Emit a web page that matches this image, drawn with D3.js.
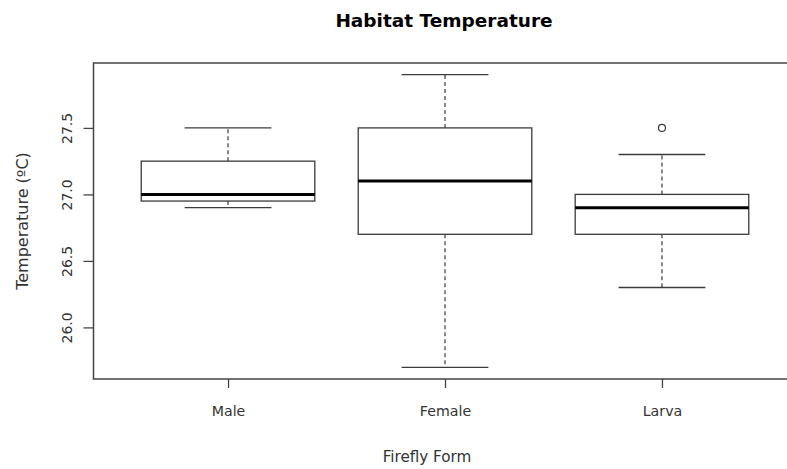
<!DOCTYPE html>
<html lang="en">
<head>
  <meta charset="UTF-8">
  <title>Habitat Temperature</title>
  <script src="https://d3js.org/d3.v7.min.js"></script>
  <style>
    body { margin: 0; background: #fff; overflow: hidden; }
    svg { width: 787px; height: 469px; display: block; }
    text { font-family: "DejaVu Sans", Verdana, sans-serif; fill: #333; }
  </style>
</head>
<body>
  <svg></svg>

  <script>
    const forms = [`Male`, `Female`, `Larva`];
    const lowerWhisker = [26.9, 25.7, 26.3];
    const q1 = [26.95, 26.7, 26.7];
    const median = [27.0, 27.1, 26.9];
    const q3 = [27.25, 27.5, 27.0];
    const upperWhisker = [27.5, 27.9, 27.3];
    const outliers = [[], [], [27.5]];
    const yTicks = [26.0, 26.5, 27.0, 27.5];

    const boxes = forms.map((f, i) => ({
      form: f, pos: i + 1,
      lo: lowerWhisker[i], q1: q1[i], med: median[i], q3: q3[i], hi: upperWhisker[i],
      out: outliers[i]
    }));

    // R style: 4% padding around the data range
    const allVals = boxes.flatMap(b => [b.lo, b.hi, ...b.out]);
    const yMin = d3.min(allVals), yMax = d3.max(allVals);
    const pad = (yMax - yMin) * 0.04;

    const plot = {left: 93.5, right: 796.5, top: 63, bottom: 379};

    const xScale = d3.scaleLinear()
      .domain([0.5 - 0.12, forms.length + 0.5 + 0.12])
      .range([plot.left, plot.right]);

    const yScale = d3.scaleLinear()
      .domain([yMin - pad, yMax + pad])
      .range([plot.bottom, plot.top]);

    const unit = xScale(2) - xScale(1);
    const boxHalf = 0.4 * unit;
    const capHalf = 0.2 * unit;

    const svg = d3.select(`svg`);
    const stroke = `#3a3a3a`;

    const g = svg.selectAll(`g.box`)
      .data(boxes)
      .enter()
      .append(`g`)
      .attr(`class`, `box`);

    // whiskers
    g.append(`line`)
      .attr(`x1`, d => xScale(d.pos)).attr(`x2`, d => xScale(d.pos))
      .attr(`y1`, d => yScale(d.q3)).attr(`y2`, d => yScale(d.hi))
      .attr(`stroke`, stroke).attr(`stroke-width`, 1.2).attr(`stroke-dasharray`, `4,3`);
    g.append(`line`)
      .attr(`x1`, d => xScale(d.pos)).attr(`x2`, d => xScale(d.pos))
      .attr(`y1`, d => yScale(d.q1)).attr(`y2`, d => yScale(d.lo))
      .attr(`stroke`, stroke).attr(`stroke-width`, 1.2).attr(`stroke-dasharray`, `4,3`);

    // caps
    [`hi`, `lo`].forEach(k => {
      g.append(`line`)
        .attr(`x1`, d => xScale(d.pos) - capHalf).attr(`x2`, d => xScale(d.pos) + capHalf)
        .attr(`y1`, d => yScale(d[k])).attr(`y2`, d => yScale(d[k]))
        .attr(`stroke`, stroke).attr(`stroke-width`, 1.3);
    });

    // box
    g.append(`rect`)
      .attr(`x`, d => xScale(d.pos) - boxHalf)
      .attr(`width`, 2 * boxHalf)
      .attr(`y`, d => yScale(d.q3))
      .attr(`height`, d => yScale(d.q1) - yScale(d.q3))
      .attr(`fill`, `white`)
      .attr(`stroke`, stroke).attr(`stroke-width`, 1.3);

    // median
    g.append(`line`)
      .attr(`x1`, d => xScale(d.pos) - boxHalf).attr(`x2`, d => xScale(d.pos) + boxHalf)
      .attr(`y1`, d => yScale(d.med)).attr(`y2`, d => yScale(d.med))
      .attr(`stroke`, `#000`).attr(`stroke-width`, 3);

    // outliers
    g.selectAll(`circle`)
      .data(d => d.out.map(v => ({pos: d.pos, v})))
      .enter()
      .append(`circle`)
      .attr(`cx`, d => xScale(d.pos))
      .attr(`cy`, d => yScale(d.v))
      .attr(`r`, 3.5)
      .attr(`fill`, `none`)
      .attr(`stroke`, stroke).attr(`stroke-width`, 1.2);

    // frame (right side falls outside the picture)
    svg.append(`path`)
      .attr(`d`, `M${plot.right},${plot.top}H${plot.left}V${plot.bottom}H${plot.right}`)
      .attr(`fill`, `none`).attr(`stroke`, `#444`).attr(`stroke-width`, 1.5);

    // axes
    const xAxis = d3.axisBottom(xScale)
      .tickValues(boxes.map(b => b.pos))
      .tickFormat((d, i) => forms[i])
      .tickSize(9).tickPadding(18);
    const xg = svg.append(`g`)
      .attr(`transform`, `translate(0, ${plot.bottom})`)
      .call(xAxis);
    xg.select(`.domain`).remove();
    xg.selectAll(`line`).attr(`stroke`, `#444`).attr(`stroke-width`, 1.3);
    xg.selectAll(`text`).attr(`font-size`, 14.2).attr(`font-family`, null).attr(`fill`, `#333`);

    const yAxis = d3.axisLeft(yScale)
      .tickValues(yTicks)
      .tickFormat(d3.format(`.1f`))
      .tickSize(10);
    const yg = svg.append(`g`)
      .attr(`transform`, `translate(${plot.left}, 0)`)
      .call(yAxis);
    yg.select(`.domain`).remove();
    yg.selectAll(`line`).attr(`stroke`, `#444`).attr(`stroke-width`, 1.3);
    yg.selectAll(`text`)
      .attr(`font-size`, 14).attr(`font-family`, null).attr(`fill`, `#333`)
      .attr(`x`, null).attr(`dy`, null)
      .attr(`text-anchor`, `middle`)
      .attr(`transform`, `translate(-22, 0) rotate(-90)`);

    // titles
    svg.append(`text`)
      .attr(`x`, 444).attr(`y`, 27)
      .attr(`text-anchor`, `middle`)
      .attr(`font-size`, 18.5).attr(`font-weight`, `bold`)
      .style(`fill`, `#000`)
      .text(`Habitat Temperature`);

    svg.append(`text`)
      .attr(`x`, 427).attr(`y`, 462)
      .attr(`text-anchor`, `middle`)
      .attr(`font-size`, 15.2)
      .text(`Firefly Form`);

    svg.append(`text`)
      .attr(`transform`, `translate(28, ${(plot.top + plot.bottom) / 2}) rotate(-90)`)
      .attr(`text-anchor`, `middle`)
      .attr(`font-size`, 16)
      .text(`Temperature (ºC)`);
  </script>
</body>
</html>
